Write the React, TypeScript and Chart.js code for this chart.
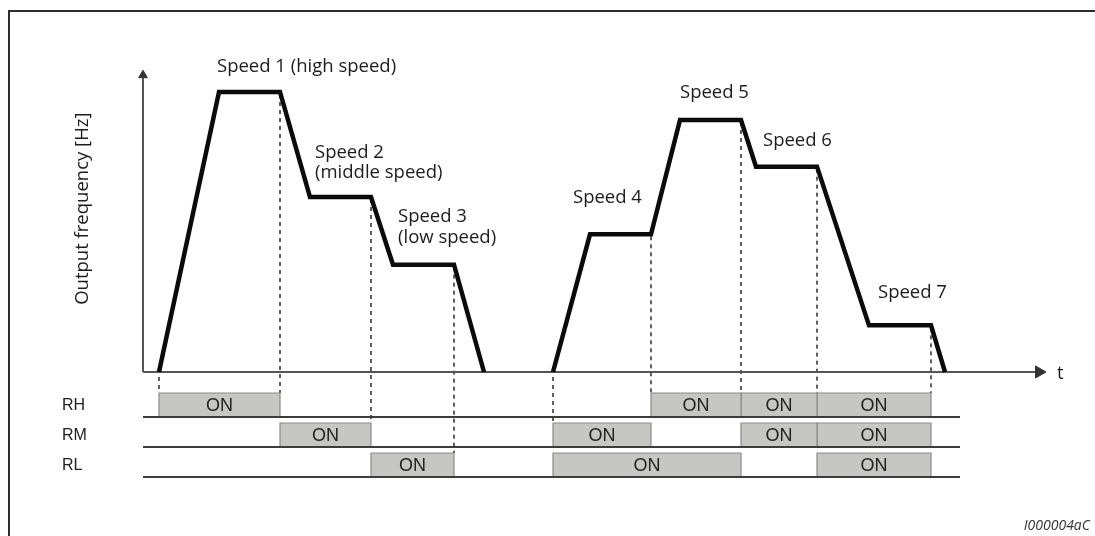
import React, { useEffect, useRef } from "react";
import { Chart, registerables } from "chart.js";

Chart.register(...registerables);

// ---------------- data ----------------
// time in s, output frequency in Hz
const RUN1_T = [1.6, 7.6, 13.7, 16.7, 22.8, 25.0, 31.1, 34.1];
const RUN1_HZ = [0, 60, 60, 37.5, 37.5, 23, 23, 0];
const RUN2_T = [41.0, 44.7, 50.8, 53.7, 59.8, 61.3, 67.4, 72.6, 78.8, 80.2];
const RUN2_HZ = [0, 29.5, 29.5, 54, 54, 44, 44, 10, 10, 0];

const SPEED_LABELS = [
  ["Speed 1 (high speed)"],
  ["Speed 2", "(middle speed)"],
  ["Speed 3", "(low speed)"],
  ["Speed 4"],
  ["Speed 5"],
  ["Speed 6"],
  ["Speed 7"],
];

const SIGNALS = ["RH", "RM", "RL"];
const RH_ON = [[1.6, 13.7], [50.8, 59.8], [59.8, 67.4], [67.4, 78.8]];
const RM_ON = [[13.7, 22.8], [41.0, 50.8], [59.8, 67.4], [67.4, 78.8]];
const RL_ON = [[22.8, 31.1], [41.0, 59.8], [67.4, 78.8]];
const ON_TEXT = "ON";
const Y_TITLE = "Output frequency [Hz]";
const X_TITLE = "t";
const CODE = "I000004aC";

// ---------------- layout / style ----------------
const W = 1095;
const H = 536;
const ORIGIN_X = 143;
const PX_PER_T = 10;
const ORIGIN_Y = 372;
const PX_PER_HZ = 280 / 60;
const ROW0_Y = 417;
const ROW_PITCH = 30;
const BOX_H = 0.8;
const T_AXIS_END = 89.6;
const HZ_AXIS_END = 63.6;
const ROW_LINE_END = 81.7;
const Y_TITLE_HZ = 35;
const FRAME_X = 9;
const FRAME_Y = 11;

const X_MIN = -ORIGIN_X / PX_PER_T;
const X_MAX = (W - ORIGIN_X) / PX_PER_T;
const Y_MIN = -(H - ORIGIN_Y) / PX_PER_HZ;
const Y_MAX = ORIGIN_Y / PX_PER_HZ;
const R_MIN = -(H - ROW0_Y) / ROW_PITCH;
const R_MAX = ROW0_Y / ROW_PITCH;

// label offsets (px) of the last text line centre from the plateau start
const LABEL_OFFSETS = [[-2, -25], [5, -24], [5, -27], [-17, -37], [0, -27], [7, -26], [9, -33]];
const LINE_GAP = 20.5;

const LABEL_FONT = '18.5px "Open Sans"';
const SIGNAL_FONT = '16px "Liberation Sans"';
const ON_FONT = '18px "Liberation Sans"';

const ROWS = [RH_ON, RM_ON, RL_ON];
const RUNS = [
  { t: RUN1_T, hz: RUN1_HZ },
  { t: RUN2_T, hz: RUN2_HZ },
];

function plateaus() {
  const out: { t: number; hz: number }[] = [];
  RUNS.forEach((r) => {
    for (let i = 0; i < r.t.length - 1; i++) {
      if (r.hz[i] > 0 && r.hz[i] === r.hz[i + 1]) out.push({ t: r.t[i], hz: r.hz[i] });
    }
  });
  return out;
}

function profileValueAt(t: number) {
  let v = 0;
  RUNS.forEach((r) => {
    r.t.forEach((tt, i) => {
      if (tt === t) v = Math.max(v, r.hz[i]);
    });
  });
  return v;
}

function edgeTimes() {
  const s = new Set<number>();
  ROWS.forEach((boxes) => boxes.forEach(([a, b]) => { s.add(a); s.add(b); }));
  return Array.from(s).sort((a, b) => a - b);
}

const overlay = {
  id: "overlay",
  beforeDraw(chart: any) {
    const { ctx } = chart;
    ctx.save();
    ctx.fillStyle = "#ffffff";
    ctx.fillRect(0, 0, W, H);
    ctx.strokeStyle = "#2e2e2e";
    ctx.lineWidth = 2;
    ctx.beginPath();
    ctx.moveTo(FRAME_X, H);
    ctx.lineTo(FRAME_X, FRAME_Y);
    ctx.lineTo(W, FRAME_Y);
    ctx.stroke();
    ctx.restore();
  },
  beforeDatasetsDraw(chart: any) {
    const { ctx, scales } = chart;
    const xs = scales.x, ys = scales.y, rs = scales.yr;
    ctx.save();
    ctx.setLineDash([4, 4]);
    ctx.lineWidth = 1.5;
    ctx.strokeStyle = "#2a2a2a";
    edgeTimes().forEach((t) => {
      const row = ROWS.findIndex((boxes) => boxes.some(([a, b]) => a === t || b === t));
      const hz = profileValueAt(t);
      const x = Math.round(xs.getPixelForValue(t));
      const y0 = ys.getPixelForValue(hz) + (hz > 0 ? 2 : 5);
      const y1 = rs.getPixelForValue(-row + BOX_H);
      ctx.beginPath();
      ctx.moveTo(x, y0);
      ctx.lineTo(x, y1);
      ctx.stroke();
    });
    ctx.restore();
  },
  afterDatasetsDraw(chart: any) {
    const { ctx, scales } = chart;
    const xs = scales.x, ys = scales.y, rs = scales.yr;
    ctx.save();
    ctx.fillStyle = "#1c1c1c";
    ctx.textBaseline = "middle";

    // speed labels
    ctx.font = LABEL_FONT;
    ctx.textAlign = "left";
    plateaus().forEach((p, i) => {
      const lines = SPEED_LABELS[i];
      if (!lines) return;
      const [dx, dy] = LABEL_OFFSETS[i];
      const x = xs.getPixelForValue(p.t) + dx;
      const yLast = ys.getPixelForValue(p.hz) + dy;
      lines.forEach((ln, j) => {
        ctx.fillText(ln, x, yLast - (lines.length - 1 - j) * LINE_GAP);
      });
    });

    // y title
    ctx.save();
    ctx.translate(xs.getPixelForValue(0) - 60, ys.getPixelForValue(Y_TITLE_HZ));
    ctx.rotate(-Math.PI / 2);
    ctx.textAlign = "center";
    ctx.fillText(Y_TITLE, 0, 0);
    ctx.restore();

    // t
    ctx.textAlign = "left";
    ctx.fillText(X_TITLE, xs.getPixelForValue(T_AXIS_END) + 18, ys.getPixelForValue(0) + 2);

    // signal names
    ctx.font = SIGNAL_FONT;
    ctx.fillStyle = "#222222";
    SIGNALS.forEach((s, i) => {
      ctx.fillText(s, xs.getPixelForValue(0) - 81, rs.getPixelForValue(-i + BOX_H / 2) + 1);
    });

    // ON texts
    ctx.font = ON_FONT;
    ctx.textAlign = "center";
    ROWS.forEach((boxes, i) => {
      boxes.forEach(([a, b]) => {
        const x = (xs.getPixelForValue(a) + xs.getPixelForValue(b)) / 2;
        ctx.fillText(ON_TEXT, x, rs.getPixelForValue(-i + BOX_H / 2) + 1);
      });
    });

    // code
    ctx.font = 'italic 14px "Open Sans"';
    ctx.textAlign = "right";
    ctx.fillStyle = "#333333";
    ctx.fillText(CODE, W - 5, H - 10);
    ctx.restore();
  },
};

function buildDatasets() {
  const ds: any[] = [];
  RUNS.forEach((r) => {
    ds.push({
      data: r.t.map((t, i) => ({ x: t, y: r.hz[i] })),
      yAxisID: "y",
      borderColor: "#0b0b0b",
      borderWidth: 4.5,
      borderJoinStyle: "miter",
      pointRadius: 0,
      fill: false,
      order: 0,
    });
  });
  SIGNALS.forEach((_, i) => {
    ds.push({
      data: [{ x: 0, y: -i }, { x: ROW_LINE_END, y: -i }],
      yAxisID: "yr",
      borderColor: "#3c3c3c",
      borderWidth: 2,
      pointRadius: 0,
      fill: false,
      order: 1,
    });
  });
  // axes with arrow heads
  ds.push({
    data: [{ x: 0, y: 0 }, { x: T_AXIS_END, y: 0 }],
    yAxisID: "y",
    borderColor: "#555555",
    borderWidth: 2,
    pointStyle: "triangle",
    pointRadius: [0, 7],
    pointRotation: [0, 90],
    pointBackgroundColor: "#333333",
    pointBorderColor: "#333333",
    pointBorderWidth: 1,
    fill: false,
    order: 2,
  });
  ds.push({
    data: [{ x: 0, y: 0 }, { x: 0, y: HZ_AXIS_END }],
    yAxisID: "y",
    borderColor: "#555555",
    borderWidth: 2,
    pointStyle: "triangle",
    pointRadius: [0, 5],
    pointRotation: [0, 0],
    pointBackgroundColor: "#333333",
    pointBorderColor: "#333333",
    pointBorderWidth: 1,
    fill: false,
    order: 2,
  });
  ROWS.forEach((boxes, i) => {
    const base = -i;
    const top = -i + BOX_H;
    boxes.forEach(([a, b]) => {
      ds.push({
        data: [
          { x: a, y: base },
          { x: a, y: top },
          { x: b, y: top },
          { x: b, y: base },
        ],
        yAxisID: "yr",
        borderColor: "#8a8a88",
        borderWidth: 1.2,
        backgroundColor: "#c6c6c3",
        pointRadius: 0,
        fill: { value: base },
        order: 3,
      });
    });
  });
  return ds;
}

export default function App() {
  const ref = useRef<HTMLCanvasElement>(null);
  useEffect(() => {
    if (!ref.current) return;
    const chart = new Chart(ref.current, {
      type: "line",
      data: { datasets: buildDatasets() },
      options: {
        animation: false,
        responsive: false,
        devicePixelRatio: 1,
        events: [],
        layout: { padding: 0, autoPadding: false },
        plugins: {
          legend: { display: false },
          tooltip: { enabled: false },
          title: { display: false },
        },
        scales: {
          x: { type: "linear", min: X_MIN, max: X_MAX, display: false, bounds: "data", offset: false },
          y: { type: "linear", min: Y_MIN, max: Y_MAX, display: false, bounds: "data" },
          yr: { type: "linear", min: R_MIN, max: R_MAX, display: false, bounds: "data", position: "left" },
        },
      } as any,
      plugins: [overlay],
    } as any);
    return () => chart.destroy();
  }, []);
  return (
    <div style={{ position: "absolute", left: 0, top: 0, width: W, height: H, background: "#fff" }}>
      <canvas ref={ref} width={W} height={H} style={{ display: "block", width: W, height: H }} />
    </div>
  );
}
